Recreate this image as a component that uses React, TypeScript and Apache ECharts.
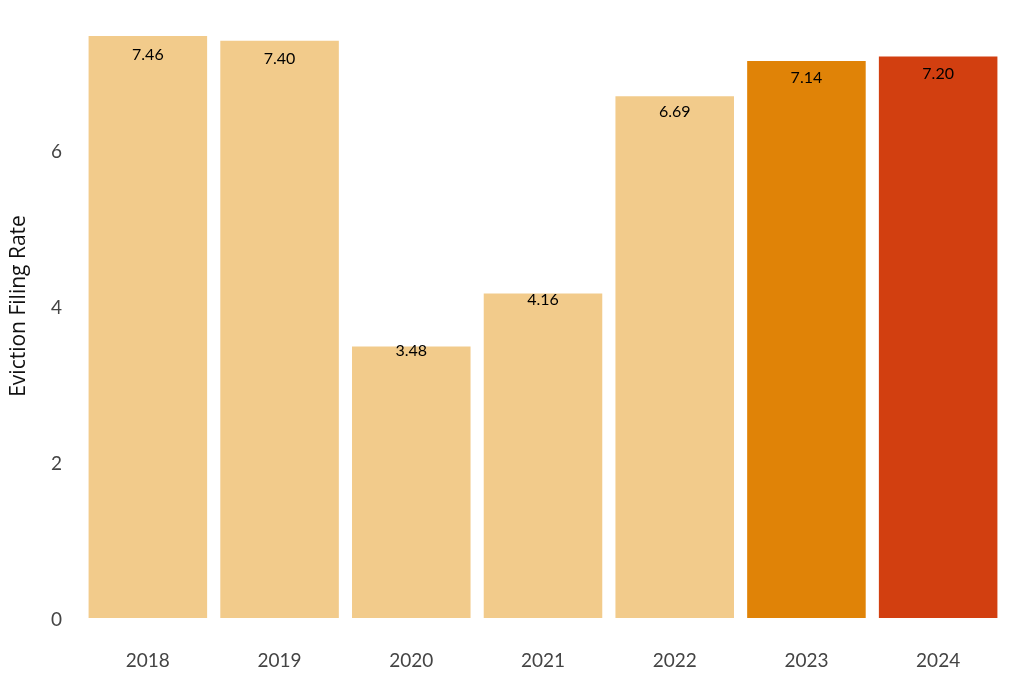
import React, { useEffect, useRef } from "react";
import * as echarts from "echarts";

const years = ["2018", "2019", "2020", "2021", "2022", "2023", "2024"];
const rates = [7.46, 7.4, 3.48, 4.16, 6.69, 7.14, 7.2];
const barColors = ["#F2CB8B", "#F2CB8B", "#F2CB8B", "#F2CB8B", "#F2CB8B", "#E08307", "#D23F10"];
const yTicks = [0, 2, 4, 6];

export default function App() {
  const ref = useRef<HTMLDivElement>(null);
  useEffect(() => {
    if (!ref.current) return;
    const chart = echarts.init(ref.current, null, { renderer: "svg" });
    const labelOffset = (v: number) => 3 + (v - 3.48) * 3.5;
    chart.setOption({
      animation: false,
      grid: {
        left: 82,
        right: 20,
        top: -6,
        bottom: 72,
        containLabel: false,
        outerBoundsMode: "none",
      },
      xAxis: {
        type: "category",
        data: years,
        axisLine: { show: false },
        axisTick: { show: false },
        axisLabel: { color: "#444", fontSize: 19, fontFamily: "Lato", margin: 32 },
      },
      yAxis: {
        type: "value",
        min: 0,
        max: 8,
        interval: 2,
        name: "Eviction Filing Rate",
        nameLocation: "middle",
        nameGap: 55,
        nameTextStyle: { color: "#111", fontSize: 21, fontFamily: "'Open Sans'" },
        splitLine: { show: false },
        axisLine: { show: false },
        axisTick: { show: false },
        axisLabel: {
          color: "#444",
          fontSize: 19,
          fontFamily: "Lato",
          margin: 20,
          showMaxLabel: false,
          formatter: (v: number) => (yTicks.includes(v) ? String(v) : ""),
        },
      },
      series: [
        {
          type: "bar",
          barCategoryGap: "10%",
          data: rates.map((v, i) => ({
            value: v,
            itemStyle: { color: barColors[i] },
            label: {
              show: true,
              position: ["50%", labelOffset(v)],
              align: "center",
              verticalAlign: "middle",
              formatter: v.toFixed(2),
              color: "#000",
              fontSize: 16,
              fontFamily: "Lato",
            },
          })),
        },
      ],
    });
    return () => chart.dispose();
  }, []);
  return (
    <div
      ref={ref}
      style={{ position: "fixed", left: 0, top: 0, width: 1024, height: 690 }}
    />
  );
}
